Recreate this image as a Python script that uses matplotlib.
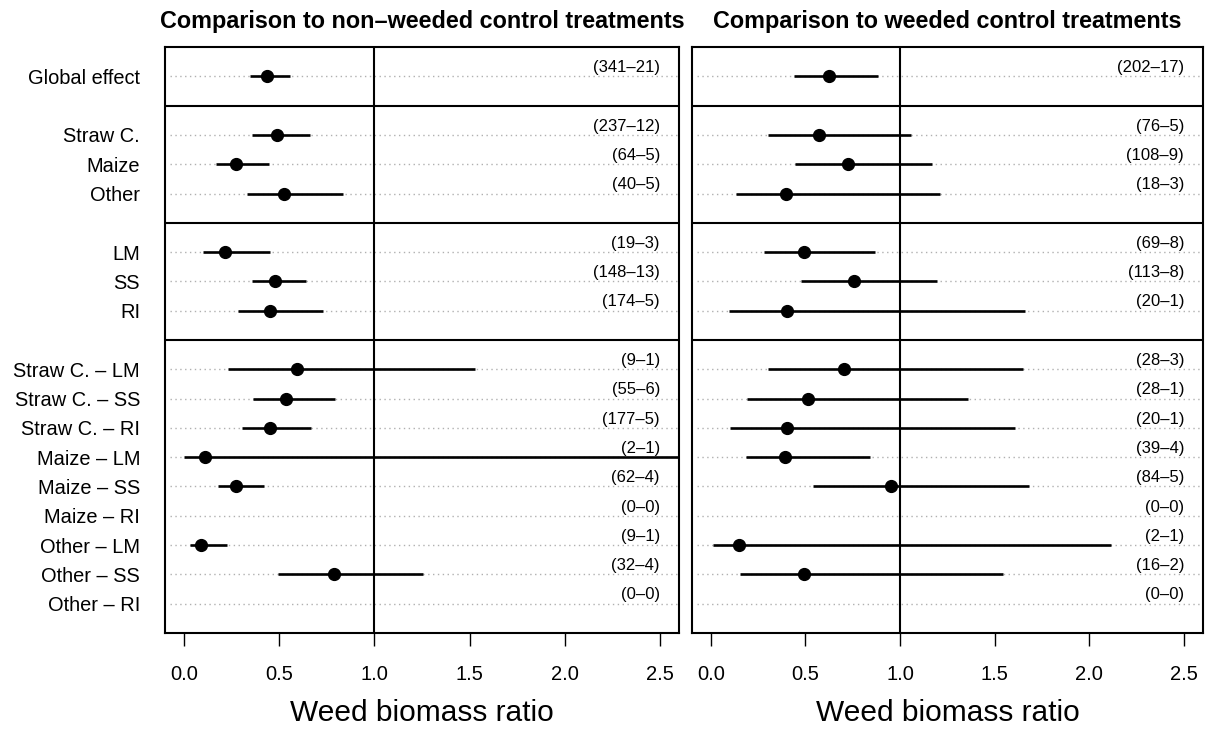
import numpy as np
import matplotlib.pyplot as plt

plt.rcParams['font.family'] = ['Liberation Sans', 'DejaVu Sans']

# --- data ---
rows = ["Global effect",
        "Straw C.", "Maize", "Other",
        "LM", "SS", "RI",
        "Straw C. – LM", "Straw C. – SS", "Straw C. – RI",
        "Maize – LM", "Maize – SS", "Maize – RI",
        "Other – LM", "Other – SS", "Other – RI"]
group_sizes = [1, 3, 3, 9]

# non-weeded control
nw_mean = [0.435, 0.486, 0.274, 0.526, 0.216, 0.479, 0.453,
           0.593, 0.535, 0.453, 0.112, 0.275, np.nan, 0.088, 0.788, np.nan]
nw_low = [0.344, 0.358, 0.167, 0.330, 0.102, 0.356, 0.281,
          0.230, 0.361, 0.304, 0.000, 0.177, np.nan, 0.033, 0.493, np.nan]
nw_high = [0.554, 0.661, 0.444, 0.837, 0.453, 0.639, 0.728,
           1.526, 0.791, 0.668, 3.500, 0.421, np.nan, 0.225, 1.256, np.nan]
nw_obs = [341, 237, 64, 40, 19, 148, 174, 9, 55, 177, 2, 62, 0, 9, 32, 0]
nw_studies = [21, 12, 5, 5, 3, 13, 5, 1, 6, 5, 1, 4, 0, 1, 4, 0]

# weeded control
w_mean = [0.624, 0.572, 0.723, 0.398, 0.493, 0.754, 0.403,
          0.705, 0.512, 0.402, 0.393, 0.954, np.nan, 0.147, 0.491, np.nan]
w_low = [0.437, 0.303, 0.445, 0.131, 0.282, 0.475, 0.095,
         0.302, 0.191, 0.102, 0.186, 0.538, np.nan, 0.009, 0.156, np.nan]
w_high = [0.884, 1.056, 1.167, 1.212, 0.868, 1.196, 1.661,
          1.649, 1.358, 1.605, 0.842, 1.682, np.nan, 2.114, 1.545, np.nan]
w_obs = [202, 76, 108, 18, 69, 113, 20, 28, 28, 20, 39, 84, 0, 2, 16, 0]
w_studies = [17, 5, 9, 3, 8, 8, 1, 3, 1, 1, 4, 5, 0, 1, 2, 0]

titles = ["Comparison to non–weeded control treatments",
          "Comparison to weeded control treatments"]

# row positions: one blank row between groups (where the separator sits)
ypos, seps, y = [], [], 0
for g, n in enumerate(group_sizes):
    for _ in range(n):
        ypos.append(y)
        y += 1
    if g < len(group_sizes) - 1:
        seps.append(y)
        y += 1
ypos = np.array(ypos)

fig = plt.figure(figsize=(12.08, 7.29), dpi=100)
axes = [fig.add_axes([0.1366, 0.1317, 0.4255, 0.8038]),
        fig.add_axes([0.5728, 0.1317, 0.4230, 0.8038])]

panels = [(nw_mean, nw_low, nw_high, nw_obs, nw_studies),
          (w_mean, w_low, w_high, w_obs, w_studies)]

for i, (ax, (m, lo, hi, nobs, nst)) in enumerate(zip(axes, panels)):
    m, lo, hi = np.array(m), np.array(lo), np.array(hi)
    for yy in ypos:
        ax.plot([-0.075, 2.6], [yy, yy], color='#b0b0b0', ls=(0, (1, 2.5)), lw=1, zorder=1)
    for s in seps:
        ax.axhline(s, color='black', lw=1.5, zorder=2)
    ax.axvline(1.0, color='black', lw=1.5, zorder=2)
    ax.hlines(ypos, lo, hi, color='black', lw=1.9, zorder=3)
    ax.plot(m, ypos, 'o', color='black', ms=8.5, zorder=4)
    for yy, a, b in zip(ypos, nobs, nst):
        ax.text(2.5, yy - 0.3, f"({a}–{b})", ha='right', va='center', fontsize=12)

    ax.set_xlim(-0.1, 2.6)
    ax.set_ylim(19, -1)
    ax.set_xticks([0, 0.5, 1.0, 1.5, 2.0, 2.5])
    ax.set_xticklabels(["0.0", "0.5", "1.0", "1.5", "2.0", "2.5"], fontsize=14.5)
    ax.tick_params(axis='x', length=9, width=1, pad=14)
    ax.set_xlabel("Weed biomass ratio", fontsize=21.5, labelpad=11)
    ax.set_title(titles[i], fontsize=16.8, fontweight='bold', pad=14)
    for sp in ax.spines.values():
        sp.set_linewidth(1.5)
    if i == 0:
        ax.set_yticks(ypos)
        ax.set_yticklabels(rows, fontsize=14.4)
        ax.tick_params(axis='y', length=0, pad=18)
    else:
        ax.set_yticks([])

fig.savefig("out.png", dpi=100)
